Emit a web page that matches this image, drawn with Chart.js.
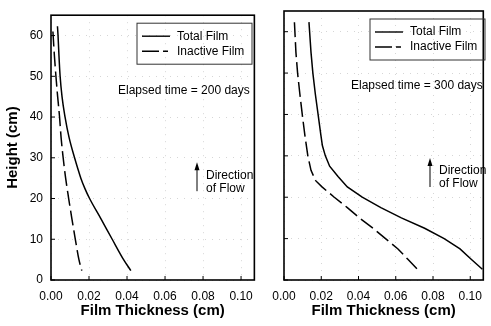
<!DOCTYPE html>
<html>
<head>
<meta charset="utf-8">
<script src="https://cdn.jsdelivr.net/npm/chart.js@4.4.0/dist/chart.umd.min.js"></script>
<style>
  html, body { margin: 0; padding: 0; background: #fff; }
  #wrap { position: relative; width: 491px; height: 326px; }
  canvas { position: absolute; top: 0; }
  #left { left: 0; }
  #right { left: 262px; }
</style>
</head>
<body>
<div id="wrap">
  <canvas id="left" width="262" height="326"></canvas>
  <canvas id="right" width="229" height="326"></canvas>
</div>
<script>
// tick labels
let xTicks = [0, 0.02, 0.04, 0.06, 0.08, 0.10];
let yTicks = [0, 10, 20, 30, 40, 50, 60];
let seriesNames = ['Total Film', 'Inactive Film'];

// elapsed time = 200 days (film thickness in cm vs height in cm)
let heightTotal200 = [62.3, 60, 55, 50, 45, 40, 35, 30, 27.5, 25, 22.5, 20, 15, 10, 5, 2.3];
let totalFilm200 = [0.0034, 0.0037, 0.0042, 0.0048, 0.0058, 0.0074, 0.0095, 0.0124, 0.0140, 0.0157, 0.0178, 0.0203, 0.0263, 0.0322, 0.0382, 0.0420];
let heightInactive200 = [61, 55, 50, 45, 40, 35, 30, 25, 20, 15, 10, 5, 2.3];
let inactiveFilm200 = [0.0010, 0.0018, 0.0026, 0.0035, 0.0045, 0.0053, 0.0064, 0.0077, 0.0093, 0.0110, 0.0128, 0.0147, 0.0162];

// elapsed time = 300 days
let heightTotal300 = [62.3, 55, 50, 45, 40, 35, 32.5, 30, 27.5, 25, 22.5, 20, 17.5, 15, 12.5, 10, 7.5, 5, 2.6];
let totalFilm300 = [0.0134, 0.0145, 0.0155, 0.0168, 0.0183, 0.0198, 0.0206, 0.0222, 0.0245, 0.0290, 0.0340, 0.0420, 0.0520, 0.0630, 0.0755, 0.0860, 0.0945, 0.1005, 0.1065];
let heightInactive300 = [62.3, 55, 50, 45, 40, 35, 30, 26.5, 24, 22.5, 20, 17.5, 15, 12.5, 10, 7.5, 5, 2.6];
let inactiveFilm300 = [0.0056, 0.0064, 0.0073, 0.0085, 0.0098, 0.0112, 0.0128, 0.0145, 0.0170, 0.0204, 0.0270, 0.0340, 0.0405, 0.0478, 0.0545, 0.0612, 0.0665, 0.0716];

const FONT = '"Liberation Sans", Arial, Helvetica, sans-serif';
const DASH = [15, 5];

function pairs(xs, ys) {
    return xs.map((x, i) => ({x: x, y: ys[i]}));
}

// frame, inward tick marks, legend box and the text notes
const panelDecor = {
    id: 'panelDecor',
    afterDatasetsDraw(chart, args, opts) {
        const ctx = chart.ctx;
        const a = chart.chartArea;
        const xs = chart.scales.x, ys = chart.scales.y;
        ctx.save();
        ctx.strokeStyle = '#000';
        ctx.lineWidth = 1.6;
        ctx.strokeRect(a.left, a.top, a.right - a.left, a.bottom - a.top);

        // inward ticks
        ctx.lineWidth = 1;
        ctx.beginPath();
        xs.ticks.forEach(t => {
            const px = xs.getPixelForValue(t.value);
            ctx.moveTo(px, a.bottom);
            ctx.lineTo(px, a.bottom - 4);
        });
        ys.ticks.forEach(t => {
            const py = ys.getPixelForValue(t.value);
            ctx.moveTo(a.left, py);
            ctx.lineTo(a.left + 4, py);
        });
        ctx.stroke();

        // legend
        const lx = a.left + 86, ly = a.top + 8;
        ctx.lineWidth = 1;
        ctx.strokeStyle = '#333';
        ctx.strokeRect(lx, ly, 115, 41);
        ctx.font = '12px ' + FONT;
        ctx.fillStyle = '#000';
        ctx.textBaseline = 'middle';
        ctx.textAlign = 'left';
        chart.data.datasets.forEach((ds, i) => {
            const ry = ly + 13 + i * 15;
            ctx.strokeStyle = '#000';
            ctx.lineWidth = 1.4;
            ctx.setLineDash(i === 0 ? [] : [17, 4, 5, 10]);
            ctx.beginPath();
            ctx.moveTo(lx + 5, ry);
            ctx.lineTo(lx + 33, ry);
            ctx.stroke();
            ctx.setLineDash([]);
            ctx.fillText(ds.label, lx + 40, ry);
        });

        // elapsed time note
        ctx.fillText(opts.note, a.left + 67, a.top + 75);

        // direction of flow arrow
        const ax = a.left + 146;
        ctx.lineWidth = 1;
        ctx.beginPath();
        ctx.moveTo(ax, a.top + 176);
        ctx.lineTo(ax, a.top + 150);
        ctx.stroke();
        ctx.beginPath();
        ctx.moveTo(ax, a.top + 147);
        ctx.lineTo(ax - 2.5, a.top + 155);
        ctx.lineTo(ax + 2.5, a.top + 155);
        ctx.closePath();
        ctx.fill();
        ctx.fillText('Direction', ax + 9, a.top + 160);
        ctx.fillText('of Flow', ax + 9, a.top + 173);
        ctx.restore();
    }
};

function makeChart(canvasId, totX, totY, inX, inY, note, isLeft) {
    const smooth = isLeft ? 'monotone' : 'default';
    return new Chart(document.getElementById(canvasId), {
        type: 'scatter',
        data: {
            datasets: [{
                label: seriesNames[0],
                data: pairs(totX, totY),
                showLine: true,
                borderColor: '#000',
                borderWidth: 1.5,
                pointRadius: 0,
                cubicInterpolationMode: smooth,
                tension: 0
            }, {
                label: seriesNames[1],
                data: pairs(inX, inY),
                showLine: true,
                borderColor: '#000',
                borderWidth: 1.5,
                borderDash: DASH,
                pointRadius: 0,
                cubicInterpolationMode: smooth,
                tension: 0
            }]
        },
        options: {
            responsive: false,
            animation: false,
            devicePixelRatio: 1,
            layout: {padding: {top: 11, right: isLeft ? 4 : 1, left: 0, bottom: 0}},
            plugins: {
                legend: {display: false},
                tooltip: {enabled: false},
                panelDecor: {note: note}
            },
            scales: {
                x: {
                    type: 'linear',
                    min: 0,
                    max: 0.107,
                    afterBuildTicks: s => { s.ticks = xTicks.map(v => ({value: v})); },
                    afterFit: s => { s.height = 46; },
                    grid: {color: 'rgba(0,0,0,0.16)', lineWidth: 1, drawTicks: false},
                    border: {display: false, dash: [1, 6]},
                    ticks: {
                        color: '#000',
                        padding: 9,
                        maxRotation: 0,
                        font: {family: FONT, size: 12},
                        callback: v => Number(v).toFixed(2)
                    },
                    title: {
                        display: true,
                        text: 'Film Thickness (cm)',
                        color: '#000',
                        padding: {top: 4, bottom: 6},
                        font: {family: FONT, size: 15, weight: 'bold'}
                    }
                },
                y: {
                    type: 'linear',
                    min: 0,
                    max: 65,
                    afterBuildTicks: s => { s.ticks = yTicks.map(v => ({value: v})); },
                    afterFit: s => { s.width = isLeft ? 51 : 22; },
                    grid: {color: 'rgba(0,0,0,0.16)', lineWidth: 1, drawTicks: false},
                    border: {display: false, dash: [1, 6]},
                    ticks: {
                        display: isLeft,
                        color: '#000',
                        padding: 8,
                        font: {family: FONT, size: 12}
                    },
                    title: {
                        display: isLeft,
                        text: 'Height (cm)',
                        color: '#000',
                        padding: {top: 4, bottom: 4},
                        font: {family: FONT, size: 15, weight: 'bold'}
                    }
                }
            }
        },
        plugins: [panelDecor]
    });
}

makeChart('left', totalFilm200, heightTotal200, inactiveFilm200, heightInactive200, 'Elapsed time = 200 days', true);
makeChart('right', totalFilm300, heightTotal300, inactiveFilm300, heightInactive300, 'Elapsed time = 300 days', false);
</script>
</body>
</html>
